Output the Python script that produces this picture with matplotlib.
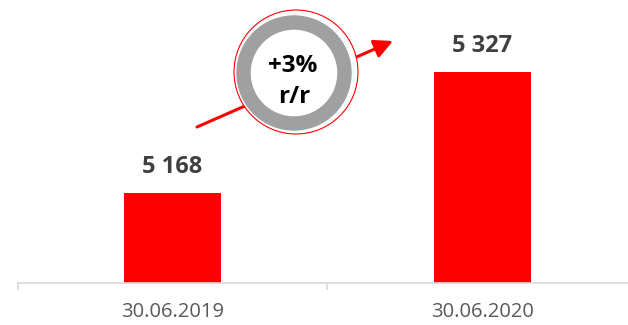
import matplotlib.pyplot as plt
from matplotlib.patches import Circle, Wedge

plt.rcParams['font.family'] = ['Open Sans', 'DejaVu Sans']

dates = ["30.06.2019", "30.06.2020"]
values = [5168, 5327]

bar_red = "#FF0000"
grid_grey = "#D9D9D9"

fig = plt.figure(figsize=(6.28, 3.25), dpi=100)
ax = fig.add_axes([17.5 / 628, 42 / 325, 619.5 / 628, 283 / 325])

x = range(len(values))
ax.bar(x, values, width=0.313, color=bar_red, zorder=2)

for xi, v in zip(x, values):
    label = f"{v:,}".replace(",", " ")
    ax.annotate(label, (xi, v), xytext=(0, 14.5), textcoords="offset points",
                ha="center", va="baseline", fontsize=17, fontweight="bold",
                color="#404040")

ax.set_xlim(-0.5, len(values) - 0.5)
ax.set_ylim(5050, 5422)

# category labels without marks, divider ticks between categories
ax.set_xticks(list(x))
ax.set_xticklabels(dates, fontsize=14.5, color="#595959")
ax.tick_params(axis="x", which="major", length=0, pad=14)
ax.set_xticks([-0.5, 0.5, 1.5], minor=True)
ax.tick_params(axis="x", which="minor", length=5, width=1.2, color=grid_grey)
ax.set_yticks([])

for side in ["top", "right", "left"]:
    ax.spines[side].set_visible(False)
ax.spines["bottom"].set_color(grid_grey)
ax.spines["bottom"].set_linewidth(1.2)

# growth badge drawn on a pixel-space overlay
growth = (values[1] / values[0] - 1) * 100
ov = fig.add_axes([0, 0, 1, 1])
ov.set_xlim(0, 628)
ov.set_ylim(325, 0)
ov.axis("off")

ov.annotate("", xy=(393, 41), xytext=(197, 127),
            arrowprops=dict(arrowstyle="-|>", color=bar_red, lw=2.2,
                            mutation_scale=28, shrinkA=0, shrinkB=0))
ov.add_patch(Circle((296, 72), 62, facecolor="white", edgecolor=bar_red,
                    lw=0.8, zorder=3))
ov.add_patch(Wedge((294, 73), 57, 0, 360, width=13, color="#A0A0A0", zorder=4))
ov.text(293, 66, f"+{growth:.0f}%", ha="center", va="center", fontsize=17.5,
        fontweight="bold", color="black", zorder=5)
ov.text(294, 97, "r/r", ha="center", va="center", fontsize=17.5,
        fontweight="bold", color="black", zorder=5)

fig.savefig("out.png", dpi=100)
